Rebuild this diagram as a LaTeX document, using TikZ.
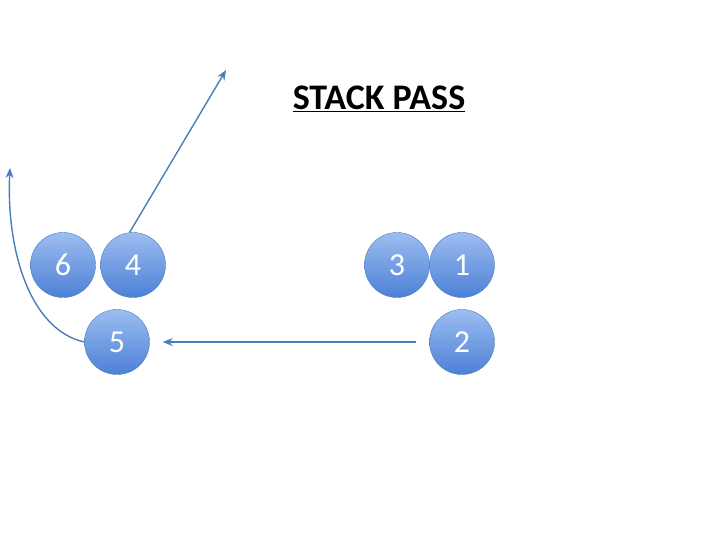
\documentclass[tikz,border=0pt]{standalone}
\usepackage{fontspec}
\setmainfont{Carlito}
\usetikzlibrary{arrows.meta}
\definecolor{playerline}{HTML}{4A7EBB}
\definecolor{playertop}{HTML}{9DBDF0}
\definecolor{playerbottom}{HTML}{4C80D6}
\tikzstyle{player} = [circle, minimum size=65pt, inner sep=0pt, draw=playerline,
  thin, top color=playertop, bottom color=playerbottom, text=white,
  font=\fontsize{32}{32}\selectfont]
\tikzstyle{route} = [draw=playerline, line width=1.4pt, -{Stealth[length=10pt,width=8pt]}]
\tikzstyle{heading} = [font=\fontsize{36}{36}\selectfont\bfseries]
\begin{document}
\begin{tikzpicture}[x=1pt, y=-1pt]
    \useasboundingbox (0,0) rectangle (720,540);
    \node[heading] (title) at (379,99) {\underline{STACK PASS}};
    \node[player] (p6) at (63,265) {6};
    \node[player] (p4) at (133,265) {4};
    \node[player] (p3) at (397,265) {3};
    \node[player] (p1) at (462,265) {1};
    \node[player] (p5) at (117,342) {5};
    \node[player] (p2) at (462,342) {2};
    \coordinate (go4) at (226,70);
    \coordinate (go5) at (10,168);
    \draw[route] (p4.96) -- (go4);
    \draw[route] (p5.west) .. controls (30,330) and (6,250) .. (go5);
    \draw[route, shorten <=13pt, shorten >=13pt] (p2.west) -- (p5.east);
\end{tikzpicture}
\end{document}
